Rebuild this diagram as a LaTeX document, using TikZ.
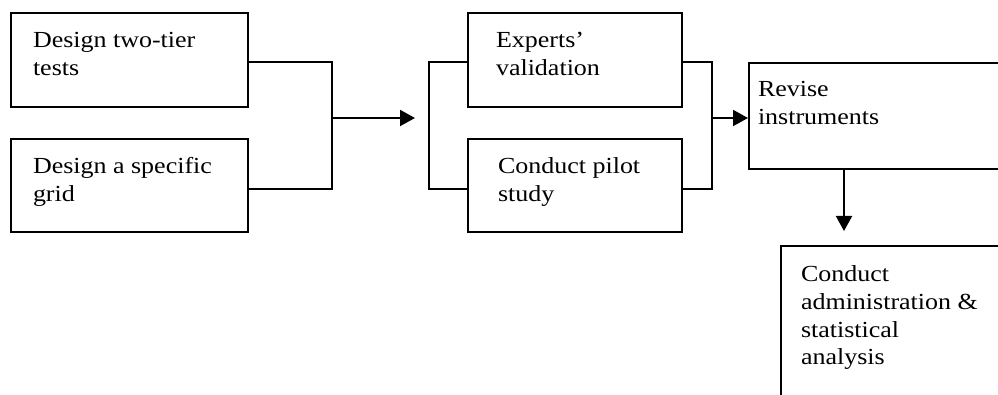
\documentclass[tikz,border=0pt]{standalone}
\usepackage{fontspec}
\setmainfont{Liberation Serif}[FakeStretch=1.13]
\usetikzlibrary{arrows.meta,calc}
\begin{document}
\begin{tikzpicture}[x=1pt,y=-1pt,line width=2pt,
  box/.style={draw,anchor=north west,inner sep=0pt},
  txt/.style={anchor=base west,inner sep=0pt,font=\fontsize{23}{27.5}\selectfont},
  arr/.style={-{Triangle[length=15pt,width=16pt]}}]
\useasboundingbox (0,0) rectangle (998,395);
\clip (0,0) rectangle (998,395);

% boxes
\node[box,minimum width=237pt,minimum height=94pt] (A) at (10,12) {};
\node[box,minimum width=237pt,minimum height=93pt] (B) at (10,138) {};
\node[box,minimum width=214pt,minimum height=94pt] (C) at (467,12) {};
\node[box,minimum width=214pt,minimum height=93pt] (D) at (467,138) {};
\node[box,minimum width=270pt,minimum height=106pt] (E) at (748,62) {};
\node[box,minimum width=240pt,minimum height=180pt] (F) at (780,245) {};

% box texts
\node[txt] (tA) at ($(A.north west)+(22,36)$) {\parbox[t]{300pt}{Design two-tier\\tests}};
\node[txt] (tB) at ($(B.north west)+(22,36)$) {\parbox[t]{300pt}{Design a specific\\grid}};
\node[txt] (tC) at ($(C.north west)+(28,36)$) {\parbox[t]{300pt}{Experts’\\validation}};
\node[txt] (tD) at ($(D.north west)+(30,36)$) {\parbox[t]{300pt}{Conduct pilot\\study}};
\node[txt] (tE) at ($(E.north west)+(9,35)$) {\parbox[t]{300pt}{Revise\\instruments}};
\node[txt] (tF) at ($(F.north west)+(20,37)$) {\parbox[t]{300pt}{Conduct\\administration \&\\statistical\\analysis}};

% junction points
\coordinate (a1) at ($(A.north east)+(0,50)$);
\coordinate (b1) at ($(B.north east)+(0,51)$);
\coordinate (m1) at (332,118);
\coordinate (t1) at (415,118);
\coordinate (c1) at ($(C.north west)+(0,50)$);
\coordinate (d1) at ($(D.north west)+(0,51)$);
\coordinate (m2) at (429,118);
\coordinate (c2) at ($(C.north east)+(0,50)$);
\coordinate (d2) at ($(D.north east)+(0,51)$);
\coordinate (m3) at (712,118);
\coordinate (e1) at ($(E.south west)+(96,0)$);
\coordinate (t3) at ($(e1)+(0,61)$);

% connectors
\draw (a1) -| (m1) |- (b1);
\draw[arr] (m1) -- (t1);
\draw (c1) -| (m2) |- (d1);
\draw (c2) -| (m3) |- (d2);
\draw[arr] (m3) -- (E.west |- m3);
\draw[arr] (e1) -- (t3);
\end{tikzpicture}
\end{document}
